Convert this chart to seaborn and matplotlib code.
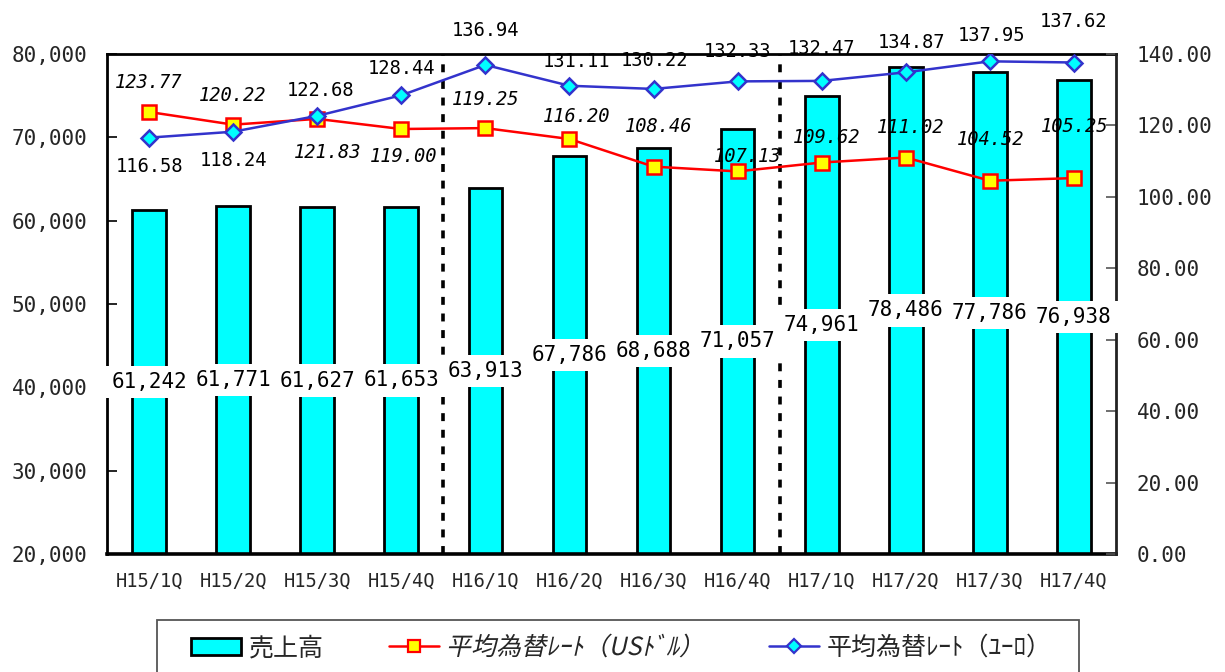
import numpy as np
import pandas as pd
import matplotlib
matplotlib.use("Agg")
import matplotlib.pyplot as plt
import seaborn as sns
from matplotlib.patches import Rectangle, Patch
from matplotlib.lines import Line2D
from matplotlib import patheffects
from matplotlib.transforms import Affine2D

# ---- data ----
quarters = ["H15/1Q", "H15/2Q", "H15/3Q", "H15/4Q",
            "H16/1Q", "H16/2Q", "H16/3Q", "H16/4Q",
            "H17/1Q", "H17/2Q", "H17/3Q", "H17/4Q"]
sales = [61242, 61771, 61627, 61653, 63913, 67786,
         68688, 71057, 74961, 78486, 77786, 76938]
rate_usd = [123.77, 120.22, 121.83, 119.00, 119.25, 116.20,
            108.46, 107.13, 109.62, 111.02, 104.52, 105.25]
rate_eur = [116.58, 118.24, 122.68, 128.44, 136.94, 131.11,
            130.22, 132.33, 132.47, 134.87, 137.95, 137.62]
sales_ticks = [20000, 30000, 40000, 50000, 60000, 70000, 80000]
sales_tick_labels = ["20,000", "30,000", "40,000", "50,000",
                     "60,000", "70,000", "80,000"]
rate_ticks = [0, 20, 40, 60, 80, 100, 120, 140]
rate_tick_labels = ["0.00", "20.00", "40.00", "60.00",
                    "80.00", "100.00", "120.00", "140.00"]
legend_labels = ["売上高", "平均為替ﾚｰﾄ（USﾄﾞﾙ）", "平均為替ﾚｰﾄ（ﾕｰﾛ）"]

# label nudges (pixels: right, down) so the value labels don't collide
usd_label_nudge = [(0, -29), (0, -29), (10, 34), (2, 27), (0, -29), (7, -23),
                   (5, -40), (10, -15), (5, -25), (5, -30), (1, -41), (1, -52)]
eur_label_nudge = [(0, 29), (0, 29), (3, -25), (0, -27), (0, -34), (7, -24),
                   (1, -28), (0, -30), (0, -32), (6, -30), (2, -26), (0, -41)]

# ---- style ----
CYAN = "#00FFFF"
RED = "#FF0000"
YELLOW = "#FFFF00"
BLUE = "#3333CC"
MONO = ["DejaVu Sans Mono", "DejaVu Sans"]
JP = ["Noto Sans CJK JP", "DejaVu Sans"]

sns.set_style("white")
plt.rcParams["font.family"] = MONO


class Slant(patheffects.AbstractPathEffect):
    """Shear glyph outlines about the text origin (for CJK text without an italic face)."""

    def __init__(self, shear=0.22):
        super().__init__()
        self.shear = shear

    def draw_path(self, renderer, gc, tpath, affine, rgbFace=None):
        m = affine.get_matrix()
        x0, y0 = m[0, 2], m[1, 2]
        shear = (Affine2D().translate(-x0, -y0)
                 + Affine2D(np.array([[1.0, self.shear, 0.0],
                                      [0.0, 1.0, 0.0],
                                      [0.0, 0.0, 1.0]]))
                 + Affine2D().translate(x0, y0))
        renderer.draw_path(gc, tpath, affine + shear, rgbFace)


W, H = 1225, 672
fig = plt.figure(figsize=(W / 100, H / 100), dpi=100)
ax = fig.add_axes([107 / W, 1 - 554 / H, (1116 - 107) / W, (554 - 54) / H])

df = pd.DataFrame({"quarter": quarters, "sales": sales,
                   "idx": np.arange(len(quarters)),
                   "usd": rate_usd, "eur": rate_eur})

# bars: sales
sns.barplot(data=df, x="quarter", y="sales", color=CYAN, saturation=1,
            edgecolor="black", linewidth=2, width=0.4, ax=ax, zorder=2)
ax.set_ylim(sales_ticks[0], sales_ticks[-1])
ax.set_xlim(-0.5, len(quarters) - 0.5)

# dotted separators between fiscal years
years = [q.split("/")[0] for q in quarters]
for i in range(1, len(years)):
    if years[i] != years[i - 1]:
        ax.axvline(i - 0.5, color="black", lw=2.6,
                   linestyle=(0, (2.2, 2.4)), zorder=3)

# lines: exchange rates on the secondary axis
ax2 = ax.twinx()
sns.lineplot(data=df, x="idx", y="usd", ax=ax2, color=RED, lw=1.8,
             marker="s", markersize=10, markerfacecolor=YELLOW,
             markeredgecolor=RED, markeredgewidth=1.8, zorder=4)
sns.lineplot(data=df, x="idx", y="eur", ax=ax2, color=BLUE, lw=1.8,
             marker="D", markersize=8, markerfacecolor=CYAN,
             markeredgecolor=BLUE, markeredgewidth=1.8, zorder=4)
ax2.set_ylim(rate_ticks[0], rate_ticks[-1])
ax2.set_xlim(-0.5, len(quarters) - 0.5)
ax.set_xlabel("")
ax.set_ylabel("")
ax2.set_xlabel("")
ax2.set_ylabel("")

# axes, ticks, spines
ax.set_yticks(sales_ticks, sales_tick_labels)
ax.tick_params(axis="y", direction="in", length=7, width=1.2,
               color="black", pad=14, labelsize=15, left=True, right=False)
ax.tick_params(axis="x", length=0, pad=13, labelsize=13.5)
ax2.set_yticks(rate_ticks, rate_tick_labels)
ax2.tick_params(axis="y", direction="in", length=7, width=1.2,
                color="#555555", pad=15, labelsize=15)
for side in ("left", "top", "bottom"):
    ax.spines[side].set_visible(True)
    ax.spines[side].set_color("black")
    ax.spines[side].set_linewidth(2)
ax.spines["bottom"].set_linewidth(2.6)
ax.spines["right"].set_visible(False)
for side in ("left", "top", "bottom"):
    ax2.spines[side].set_visible(False)
ax2.spines["right"].set_color("#222222")
ax2.spines["right"].set_linewidth(2)
ax2.spines["right"].set_linestyle((0, (3, 1)))

# value labels for the bars (middle of each bar, on white boxes)
for i, v in enumerate(sales):
    ax2.text(i, (sales_ticks[0] + v) / 2, f"{v:,}", transform=ax.transData,
             ha="center", va="center", fontsize=15, color="black",
             zorder=10, clip_on=False,
             bbox=dict(boxstyle="square,pad=0.3", fc="white", ec="none"))

# value labels for the rates
px = 0.72
for i, (v, (dx, dy)) in enumerate(zip(rate_usd, usd_label_nudge)):
    ax2.annotate(f"{v:.2f}", (i, v), xytext=(dx * px, -dy * px),
                 textcoords="offset points", ha="center", va="center",
                 fontsize=13.5, fontstyle="italic", color="black",
                 zorder=9, annotation_clip=False)
for i, (v, (dx, dy)) in enumerate(zip(rate_eur, eur_label_nudge)):
    ax2.annotate(f"{v:.2f}", (i, v), xytext=(dx * px, -dy * px),
                 textcoords="offset points", ha="center", va="center",
                 fontsize=13.5, color="black", zorder=9,
                 annotation_clip=False)

# legend, framed by a box that runs off the bottom edge
handles = [
    Patch(facecolor=CYAN, edgecolor="black", linewidth=2),
    Line2D([], [], color=RED, lw=1.8, marker="s", markersize=9,
           markerfacecolor=YELLOW, markeredgecolor=RED, markeredgewidth=1.6),
    Line2D([], [], color=BLUE, lw=1.8, marker="D", markersize=7,
           markerfacecolor=CYAN, markeredgecolor=BLUE, markeredgewidth=1.6),
]
leg = fig.legend(handles, legend_labels, loc="center left",
                 bbox_to_anchor=(191 / W, 1 - 648 / H), ncol=3,
                 frameon=False, borderpad=0, borderaxespad=0,
                 handlelength=2.0, handleheight=0.7, handletextpad=0.3,
                 columnspacing=2.6,
                 prop={"family": JP, "size": 18})
leg.get_texts()[1].set_path_effects([Slant(0.22)])
fig.add_artist(Rectangle((157 / W, 1 - 700 / H), (1079 - 157) / W,
                         (700 - 620) / H, transform=fig.transFigure,
                         fill=False, ec="#555555", lw=1.3, clip_on=False))

fig.savefig("out.png", dpi=100)
